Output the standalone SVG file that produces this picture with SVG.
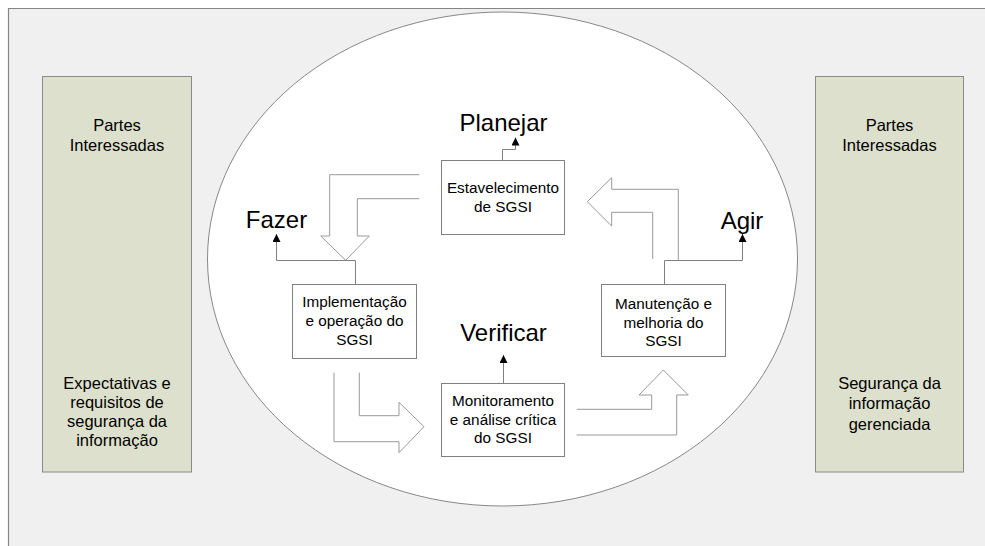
<svg xmlns="http://www.w3.org/2000/svg" width="985" height="546" viewBox="0 0 985 546">
<defs>
<style>
.bg{fill:#f0f0f0;stroke:#858585;stroke-width:1.2}
.panel{fill:#dde0cc;stroke:#8a8a8a;stroke-width:1}
.box{fill:#ffffff;stroke:#808080;stroke-width:1}
.hollow{fill:none;stroke:#999999;stroke-width:1}
.conn{fill:none;stroke:#808080;stroke-width:1}
text{font-family:"Liberation Sans",Arial,sans-serif;fill:#000;text-anchor:middle}
.pt{font-size:16.5px}
.bt{font-size:15.3px}
.lb{font-size:24px}
</style>
<marker id="ah" viewBox="0 0 10 10" refX="10" refY="5" markerUnits="userSpaceOnUse" markerWidth="8" markerHeight="8" orient="auto">
<path d="M0,0 L10,5 L0,10 z" fill="#000"/>
</marker>
</defs>
<rect x="0" y="0" width="985" height="546" fill="#ffffff"/>
<path class="bg" d="M8.5,560 V8.5 H1000 V560 z"/>
<g id="left-panel">
<rect class="panel" x="42.5" y="76.5" width="149" height="395.5"/>
<text class="pt" x="117" y="131">Partes</text>
<text class="pt" x="117" y="151">Interessadas</text>
<text class="pt" x="117" y="389">Expectativas e</text>
<text class="pt" x="117" y="408">requisitos de</text>
<text class="pt" x="117" y="427">segurança da</text>
<text class="pt" x="117" y="446">informação</text>
</g>
<g id="right-panel">
<rect class="panel" x="815.5" y="76.5" width="148" height="395.5"/>
<text class="pt" x="889.5" y="131">Partes</text>
<text class="pt" x="889.5" y="151">Interessadas</text>
<text class="pt" x="889.5" y="389">Segurança da</text>
<text class="pt" x="889.5" y="409">informação</text>
<text class="pt" x="889.5" y="430">gerenciada</text>
</g>
<g id="cycle">
<ellipse cx="502.5" cy="259" rx="295" ry="247" fill="#ffffff" stroke="#888888" stroke-width="1"/>
</g>
<g id="hollow-arrows">
<path class="hollow" d="M419.3,174.7 H329.7 V236 H320.7 L345.7,260.3 L369.3,236 H357.3 V198.7 H419.3"/>
<path class="hollow" d="M334,372.7 V441.7 H399 V452.7 L424,426.7 L399,402.3 V415.7 H359.3 V372.7"/>
<path class="hollow" d="M576.7,435 H676.7 V395 H688.3 L663.3,370 L639,395 H651.7 V409.3 H576.7"/>
<path class="hollow" d="M678.3,260 V189.3 H611.7 V177.7 L587.3,201.7 L611.7,226 V212.3 H652.7 V259"/>
</g>
<g id="connectors">
<path class="conn" d="M502.5,160 V149.5 H515.5 V137.5" marker-end="url(#ah)"/>
<path class="conn" d="M355.5,284 V260.5 H276.5 V234" marker-end="url(#ah)"/>
<path class="conn" d="M503.5,383 V355" marker-end="url(#ah)"/>
<path class="conn" d="M664.5,284 V260.5 H742.5 V234" marker-end="url(#ah)"/>
</g>
<g id="estabelecimento">
<rect class="box" x="441.5" y="160.5" width="123" height="74"/>
<text class="bt" x="503" y="193">Estavelecimento</text>
<text class="bt" x="503" y="212">de SGSI</text>
</g>
<g id="implementacao">
<rect class="box" x="292.5" y="284.5" width="124" height="74"/>
<text class="bt" x="354.5" y="307">Implementação</text>
<text class="bt" x="354.5" y="326">e operação do</text>
<text class="bt" x="354.5" y="345">SGSI</text>
</g>
<g id="monitoramento">
<rect class="box" x="441.5" y="383.5" width="123" height="73"/>
<text class="bt" x="503" y="406">Monitoramento</text>
<text class="bt" x="503" y="424.5">e análise crítica</text>
<text class="bt" x="503" y="443">do SGSI</text>
</g>
<g id="manutencao">
<rect class="box" x="601.5" y="284.5" width="124" height="72"/>
<text class="bt" x="663.5" y="308.5">Manutenção e</text>
<text class="bt" x="663.5" y="327.5">melhoria do</text>
<text class="bt" x="663.5" y="345.5">SGSI</text>
</g>
<g id="labels">
<text class="lb" x="503.5" y="131">Planejar</text>
<text class="lb" x="276.5" y="228">Fazer</text>
<text class="lb" x="503.5" y="341">Verificar</text>
<text class="lb" x="742" y="228.5">Agir</text>
</g>
</svg>
